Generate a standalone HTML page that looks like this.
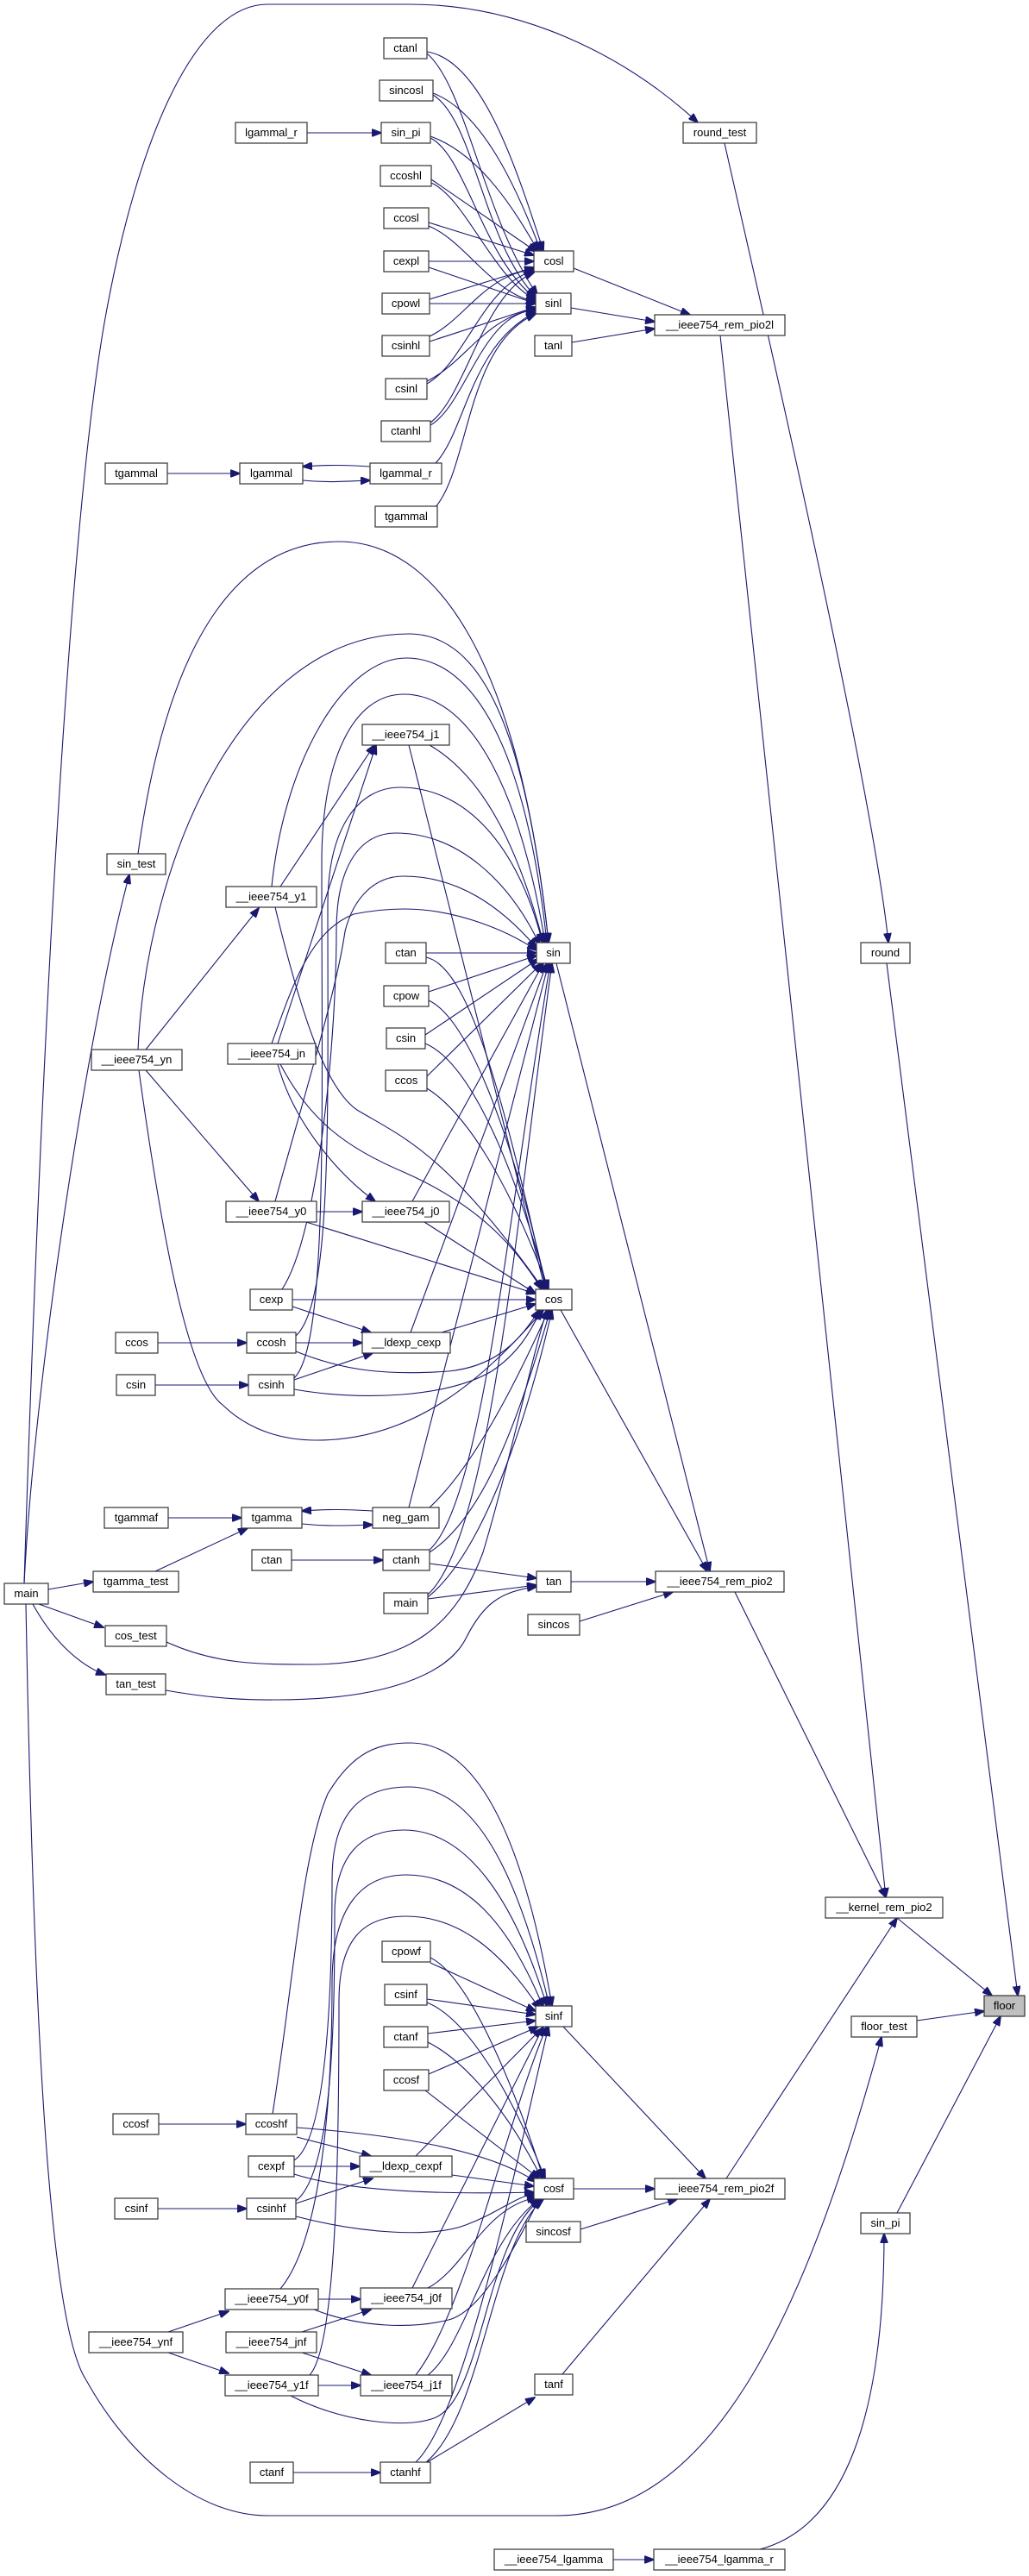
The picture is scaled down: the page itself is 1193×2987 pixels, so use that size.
<!DOCTYPE html>
<html><head><meta charset="utf-8"><style>
html,body{margin:0;padding:0;background:#fff}
svg{display:block}
rect{fill:#fff;stroke:#333;stroke-width:1.2}
text{font-family:"Liberation Sans",Arial,sans-serif;font-size:13px;fill:#000;text-anchor:middle}
path{fill:none;stroke:#191970;stroke-width:1.1;marker-end:url(#a)}
</style></head><body>
<svg width="1193" height="2987" viewBox="0 0 1193 2987" xmlns="http://www.w3.org/2000/svg">
<defs><marker id="a" markerUnits="userSpaceOnUse" markerWidth="12" markerHeight="9" refX="11" refY="4.5" orient="auto"><polygon points="0,0 12,4.5 0,9" fill="#191970" stroke="#191970"/></marker></defs>
<g>
<path d="M28,1836 C45,1300 75,650 120,380 C160,150 230,5 310,5 L476,5 C600,5 720,60 809,142"/>
<path d="M356,154 L442,154"/>
<path d="M495,60 C560,70 600,200 630,291"/>
<path d="M495,62 C540,100 560,250 623,342"/>
<path d="M502,108 C560,130 600,220 627,291"/>
<path d="M502,110 C550,140 560,280 621,344"/>
<path d="M499,158 C560,180 600,250 624,291"/>
<path d="M499,160 C540,180 560,300 621,346"/>
<path d="M500,208 L622,292"/>
<path d="M500,212 C540,230 570,320 621,348"/>
<path d="M497,258 L619,296"/>
<path d="M497,262 C540,280 570,340 621,350"/>
<path d="M497,303 L619,303"/>
<path d="M497,310 L621,352"/>
<path d="M498,347 L619,310"/>
<path d="M498,352 L621,352"/>
<path d="M498,390 C540,370 560,320 619,312"/>
<path d="M498,396 L621,356"/>
<path d="M495,445 C540,420 560,330 619,314"/>
<path d="M495,442 C540,420 560,370 621,358"/>
<path d="M499,493 C540,470 560,360 621,360"/>
<path d="M499,490 C540,460 560,340 619,316"/>
<path d="M505,537 C540,500 545,400 621,362"/>
<path d="M505,588 C545,540 540,400 621,364"/>
<path d="M194,549 L278,549"/>
<path d="M351,557 C380,560 400,558 429,557"/>
<path d="M429,541 C400,539 380,539 351,541"/>
<path d="M665,311 L800,365"/>
<path d="M662,357 L759,373"/>
<path d="M663,397 L759,381"/>
<path d="M840,166 C870,300 1010,900 1030,1093"/>
<path d="M835,389 L1027,2200"/>
<path d="M1028,1117 L1180,2314"/>
<path d="M160,990 C200,700 300,628 393,628 C500,628 600,750 636,1093"/>
<path d="M28,1836 C40,1600 100,1200 150,1014"/>
<path d="M56,1843 L108,1834"/>
<path d="M45,1860 L120,1887"/>
<path d="M38,1860 C60,1900 90,1930 122,1942"/>
<path d="M30,1860 C40,2400 60,2700 100,2760 C150,2850 230,2917 310,2917 L645,2917 C820,2917 930,2700 1022,2362"/>
<path d="M169,1217 L300,1053"/>
<path d="M169,1241 L300,1393"/>
<path d="M160,1217 C170,1000 280,735 474,735 C560,735 610,850 636,1093"/>
<path d="M315,1028 C330,880 400,763 471,763 C550,763 610,870 634,1093"/>
<path d="M341,1598 C380,1560 373,1300 373,1000 C373,880 410,805 468,805 C540,805 600,900 632,1093"/>
<path d="M343,1549 C385,1510 380,1300 380,1050 C380,960 415,913 464,913 C540,913 600,980 629,1093"/>
<path d="M327,1495 C370,1430 390,1200 390,1080 C390,1000 420,966 459,966 C530,966 590,1020 626,1096"/>
<path d="M319,1393 C350,1280 390,1150 400,1080 C410,1040 435,1016 468,1016 C530,1016 580,1050 622,1099"/>
<path d="M315,1210 C340,1140 360,1080 410,1060 C440,1054 460,1054 469,1054 C530,1054 590,1080 622,1102"/>
<path d="M161,1241 C190,1450 220,1600 258,1629 C290,1660 330,1670 367,1670 C480,1670 560,1600 630,1519"/>
<path d="M319,1052 C350,1180 380,1270 419,1290 C470,1320 520,1340 630,1495"/>
<path d="M322,1210 L436,864"/>
<path d="M325,1028 L434,864"/>
<path d="M322,1234 C340,1300 390,1360 435,1393"/>
<path d="M325,1234 C360,1300 400,1330 470,1360 C560,1400 600,1450 628,1495"/>
<path d="M367,1405 L420,1405"/>
<path d="M355,1417 L621,1500"/>
<path d="M498,864 C560,900 600,980 630,1093"/>
<path d="M474,864 L632,1495"/>
<path d="M478,1393 L630,1117"/>
<path d="M492,1417 L621,1500"/>
<path d="M494,1105 L622,1105"/>
<path d="M494,1110 C540,1120 580,1250 633,1495"/>
<path d="M497,1150 L622,1108"/>
<path d="M497,1160 C540,1180 590,1300 634,1495"/>
<path d="M493,1200 L624,1112"/>
<path d="M493,1210 C540,1230 590,1330 635,1495"/>
<path d="M495,1248 L628,1117"/>
<path d="M495,1262 C540,1290 590,1370 636,1495"/>
<path d="M339,1507 L621,1507"/>
<path d="M339,1515 L430,1545"/>
<path d="M183,1557 L286,1557"/>
<path d="M343,1557 L420,1557"/>
<path d="M343,1567 C400,1590 450,1595 520,1590 C570,1585 600,1560 625,1519"/>
<path d="M180,1606 L288,1606"/>
<path d="M341,1600 L432,1569"/>
<path d="M341,1611 C420,1625 520,1620 570,1590 C600,1570 615,1545 627,1519"/>
<path d="M512,1545 L621,1512"/>
<path d="M476,1545 L634,1117"/>
<path d="M474,1748 L636,1117"/>
<path d="M498,1748 C550,1700 600,1600 636,1519"/>
<path d="M195,1760 L280,1760"/>
<path d="M180,1822 L287,1772"/>
<path d="M350,1767 C380,1770 400,1769 432,1768"/>
<path d="M432,1752 C400,1750 380,1750 350,1752"/>
<path d="M338,1809 L444,1809"/>
<path d="M498,1797 C560,1740 590,1400 638,1117"/>
<path d="M498,1800 C560,1760 600,1650 638,1519"/>
<path d="M498,1813 L622,1830"/>
<path d="M496,1849 C570,1780 600,1400 640,1117"/>
<path d="M496,1852 C560,1800 610,1650 640,1519"/>
<path d="M496,1854 L622,1838"/>
<path d="M193,1904 C250,1930 300,1930 360,1930 C480,1930 530,1880 560,1800 C590,1700 615,1580 634,1519"/>
<path d="M192,1960 C260,1972 300,1971 321,1971 C450,1971 520,1940 540,1900 C560,1860 580,1845 622,1840"/>
<path d="M645,1117 L823,1822"/>
<path d="M650,1519 L820,1822"/>
<path d="M662,1834 L760,1834"/>
<path d="M672,1880 L780,1846"/>
<path d="M852,1846 L1027,2200"/>
<path d="M316,2451 C340,2300 350,2150 380,2080 C410,2030 440,2021 476,2021 C560,2021 610,2150 640,2326"/>
<path d="M341,2505 C380,2480 385,2300 385,2180 C385,2100 420,2072 474,2072 C550,2072 600,2170 637,2326"/>
<path d="M343,2552 C385,2520 388,2350 388,2220 C388,2150 420,2122 468,2122 C540,2122 595,2200 634,2326"/>
<path d="M325,2654 C370,2600 385,2450 385,2300 C385,2210 420,2174 471,2174 C540,2174 590,2230 630,2328"/>
<path d="M359,2754 C390,2720 393,2500 393,2320 C393,2250 420,2222 471,2222 C530,2222 580,2260 626,2330"/>
<path d="M499,2276 L621,2332"/>
<path d="M499,2270 C540,2290 590,2400 630,2526"/>
<path d="M495,2318 L621,2336"/>
<path d="M495,2322 C540,2340 590,2420 632,2526"/>
<path d="M496,2358 L621,2343"/>
<path d="M496,2368 C540,2390 590,2450 628,2526"/>
<path d="M497,2405 L624,2350"/>
<path d="M493,2424 L625,2526"/>
<path d="M184,2463 L285,2463"/>
<path d="M344,2478 L430,2500"/>
<path d="M344,2467 C450,2475 560,2490 622,2530"/>
<path d="M341,2512 L417,2512"/>
<path d="M341,2521 C400,2540 500,2545 619,2542"/>
<path d="M183,2561 L286,2561"/>
<path d="M343,2555 L432,2526"/>
<path d="M343,2570 C420,2590 500,2595 540,2580 C580,2565 600,2545 622,2544"/>
<path d="M482,2500 L628,2352"/>
<path d="M524,2522 L619,2535"/>
<path d="M195,2704 L265,2680"/>
<path d="M195,2728 L265,2752"/>
<path d="M369,2666 L418,2666"/>
<path d="M364,2678 C420,2700 480,2700 520,2690 C560,2680 600,2600 625,2550"/>
<path d="M350,2704 L430,2678"/>
<path d="M350,2728 L430,2754"/>
<path d="M369,2766 L418,2766"/>
<path d="M337,2778 C400,2810 470,2815 500,2805 C560,2790 560,2600 627,2550"/>
<path d="M478,2653 L630,2350"/>
<path d="M496,2653 C540,2630 560,2560 622,2548"/>
<path d="M482,2754 C540,2680 590,2450 634,2350"/>
<path d="M496,2754 C540,2720 560,2600 625,2550"/>
<path d="M340,2867 L441,2867"/>
<path d="M482,2855 C540,2800 600,2500 636,2350"/>
<path d="M494,2855 C560,2800 570,2600 630,2550"/>
<path d="M492,2857 L620,2780"/>
<path d="M653,2350 L818,2526"/>
<path d="M665,2538 L759,2538"/>
<path d="M673,2585 L785,2550"/>
<path d="M652,2753 L823,2550"/>
<path d="M842,2526 L1040,2224"/>
<path d="M1040,2224 L1150,2314"/>
<path d="M1063,2343 L1141,2332"/>
<path d="M1040,2566 L1160,2338"/>
<path d="M711,2968 L758,2968"/>
<path d="M881,2956 C980,2930 1025,2800 1025,2590"/>
</g>
<g>
<rect x="445" y="44" width="50" height="24"/><text x="470" y="60">ctanl</text>
<rect x="440" y="93" width="62" height="24"/><text x="471" y="109">sincosl</text>
<rect x="273" y="142" width="83" height="24"/><text x="314.5" y="158">lgammal_r</text>
<rect x="442" y="142" width="57" height="24"/><text x="470.5" y="158">sin_pi</text>
<rect x="792" y="142" width="85" height="24"/><text x="834.5" y="158">round_test</text>
<rect x="441" y="192" width="59" height="24"/><text x="470.5" y="208">ccoshl</text>
<rect x="445" y="241" width="52" height="24"/><text x="471" y="257">ccosl</text>
<rect x="445" y="291" width="52" height="24"/><text x="471" y="307">cexpl</text>
<rect x="619" y="291" width="46" height="24"/><text x="642" y="307">cosl</text>
<rect x="443" y="340" width="55" height="24"/><text x="470.5" y="356">cpowl</text>
<rect x="621" y="340" width="41" height="24"/><text x="641.5" y="356">sinl</text>
<rect x="759" y="365" width="151" height="24"/><text x="834.5" y="381">__ieee754_rem_pio2l</text>
<rect x="443" y="389" width="55" height="24"/><text x="470.5" y="405">csinhl</text>
<rect x="620" y="389" width="43" height="24"/><text x="641.5" y="405">tanl</text>
<rect x="447" y="439" width="48" height="24"/><text x="471" y="455">csinl</text>
<rect x="442" y="488" width="57" height="24"/><text x="470.5" y="504">ctanhl</text>
<rect x="122" y="537" width="72" height="24"/><text x="158" y="553">tgammal</text>
<rect x="278" y="537" width="73" height="24"/><text x="314.5" y="553">lgammal</text>
<rect x="429" y="537" width="83" height="24"/><text x="470.5" y="553">lgammal_r</text>
<rect x="435" y="587" width="72" height="24"/><text x="471" y="603">tgammal</text>
<rect x="420" y="840" width="101" height="24"/><text x="470.5" y="856">__ieee754_j1</text>
<rect x="124" y="990" width="68" height="24"/><text x="158" y="1006">sin_test</text>
<rect x="262" y="1028" width="105" height="24"/><text x="314.5" y="1044">__ieee754_y1</text>
<rect x="998" y="1093" width="57" height="24"/><text x="1026.5" y="1109">round</text>
<rect x="447" y="1093" width="47" height="24"/><text x="470.5" y="1109">ctan</text>
<rect x="622" y="1093" width="39" height="24"/><text x="641.5" y="1109">sin</text>
<rect x="445" y="1143" width="52" height="24"/><text x="471" y="1159">cpow</text>
<rect x="448" y="1192" width="45" height="24"/><text x="470.5" y="1208">csin</text>
<rect x="264" y="1210" width="102" height="24"/><text x="315" y="1226">__ieee754_jn</text>
<rect x="106" y="1217" width="105" height="24"/><text x="158.5" y="1233">__ieee754_yn</text>
<rect x="447" y="1241" width="48" height="24"/><text x="471" y="1257">ccos</text>
<rect x="262" y="1393" width="105" height="24"/><text x="314.5" y="1409">__ieee754_y0</text>
<rect x="420" y="1393" width="101" height="24"/><text x="470.5" y="1409">__ieee754_j0</text>
<rect x="290" y="1495" width="49" height="24"/><text x="314.5" y="1511">cexp</text>
<rect x="621" y="1495" width="42" height="24"/><text x="642" y="1511">cos</text>
<rect x="134" y="1545" width="49" height="24"/><text x="158.5" y="1561">ccos</text>
<rect x="286" y="1545" width="57" height="24"/><text x="314.5" y="1561">ccosh</text>
<rect x="420" y="1545" width="102" height="24"/><text x="471" y="1561">__ldexp_cexp</text>
<rect x="135" y="1594" width="45" height="24"/><text x="157.5" y="1610">csin</text>
<rect x="288" y="1594" width="53" height="24"/><text x="314.5" y="1610">csinh</text>
<rect x="121" y="1748" width="74" height="24"/><text x="158" y="1764">tgammaf</text>
<rect x="280" y="1748" width="70" height="24"/><text x="315" y="1764">tgamma</text>
<rect x="432" y="1748" width="77" height="24"/><text x="470.5" y="1764">neg_gam</text>
<rect x="292" y="1797" width="46" height="24"/><text x="315" y="1813">ctan</text>
<rect x="444" y="1797" width="54" height="24"/><text x="471" y="1813">ctanh</text>
<rect x="108" y="1822" width="99" height="24"/><text x="157.5" y="1838">tgamma_test</text>
<rect x="622" y="1822" width="40" height="24"/><text x="642" y="1838">tan</text>
<rect x="760" y="1822" width="149" height="24"/><text x="834.5" y="1838">__ieee754_rem_pio2</text>
<rect x="5" y="1836" width="51" height="24"/><text x="30.5" y="1852">main</text>
<rect x="445" y="1847" width="51" height="24"/><text x="470.5" y="1863">main</text>
<rect x="612" y="1872" width="60" height="24"/><text x="642" y="1888">sincos</text>
<rect x="122" y="1885" width="71" height="24"/><text x="157.5" y="1901">cos_test</text>
<rect x="123" y="1941" width="69" height="24"/><text x="157.5" y="1957">tan_test</text>
<rect x="957" y="2200" width="136" height="24"/><text x="1025" y="2216">__kernel_rem_pio2</text>
<rect x="443" y="2251" width="56" height="24"/><text x="471" y="2267">cpowf</text>
<rect x="446" y="2301" width="49" height="24"/><text x="470.5" y="2317">csinf</text>
<rect x="1141" y="2314" width="47" height="24" style="fill:#bfbfbf"/><text x="1164.5" y="2330">floor</text>
<rect x="621" y="2326" width="42" height="24"/><text x="642" y="2342">sinf</text>
<rect x="987" y="2338" width="76" height="24"/><text x="1025" y="2354">floor_test</text>
<rect x="445" y="2350" width="51" height="24"/><text x="470.5" y="2366">ctanf</text>
<rect x="445" y="2400" width="52" height="24"/><text x="471" y="2416">ccosf</text>
<rect x="131" y="2451" width="53" height="24"/><text x="157.5" y="2467">ccosf</text>
<rect x="285" y="2451" width="59" height="24"/><text x="314.5" y="2467">ccoshf</text>
<rect x="288" y="2500" width="53" height="24"/><text x="314.5" y="2516">cexpf</text>
<rect x="417" y="2500" width="107" height="24"/><text x="470.5" y="2516">__ldexp_cexpf</text>
<rect x="619" y="2526" width="46" height="24"/><text x="642" y="2542">cosf</text>
<rect x="759" y="2526" width="151" height="24"/><text x="834.5" y="2542">__ieee754_rem_pio2f</text>
<rect x="133" y="2549" width="50" height="24"/><text x="158" y="2565">csinf</text>
<rect x="286" y="2549" width="57" height="24"/><text x="314.5" y="2565">csinhf</text>
<rect x="998" y="2566" width="57" height="24"/><text x="1026.5" y="2582">sin_pi</text>
<rect x="610" y="2576" width="63" height="24"/><text x="641.5" y="2592">sincosf</text>
<rect x="261" y="2654" width="108" height="24"/><text x="315" y="2670">__ieee754_y0f</text>
<rect x="418" y="2653" width="106" height="24"/><text x="471" y="2669">__ieee754_j0f</text>
<rect x="103" y="2704" width="109" height="24"/><text x="157.5" y="2720">__ieee754_ynf</text>
<rect x="262" y="2704" width="105" height="24"/><text x="314.5" y="2720">__ieee754_jnf</text>
<rect x="261" y="2754" width="108" height="24"/><text x="315" y="2770">__ieee754_y1f</text>
<rect x="418" y="2754" width="106" height="24"/><text x="471" y="2770">__ieee754_j1f</text>
<rect x="620" y="2753" width="44" height="24"/><text x="642" y="2769">tanf</text>
<rect x="290" y="2855" width="50" height="24"/><text x="315" y="2871">ctanf</text>
<rect x="441" y="2855" width="58" height="24"/><text x="470" y="2871">ctanhf</text>
<rect x="573" y="2956" width="138" height="24"/><text x="642" y="2972">__ieee754_lgamma</text>
<rect x="758" y="2956" width="152" height="24"/><text x="834" y="2972">__ieee754_lgamma_r</text>
</g>
</svg>
</body></html>
